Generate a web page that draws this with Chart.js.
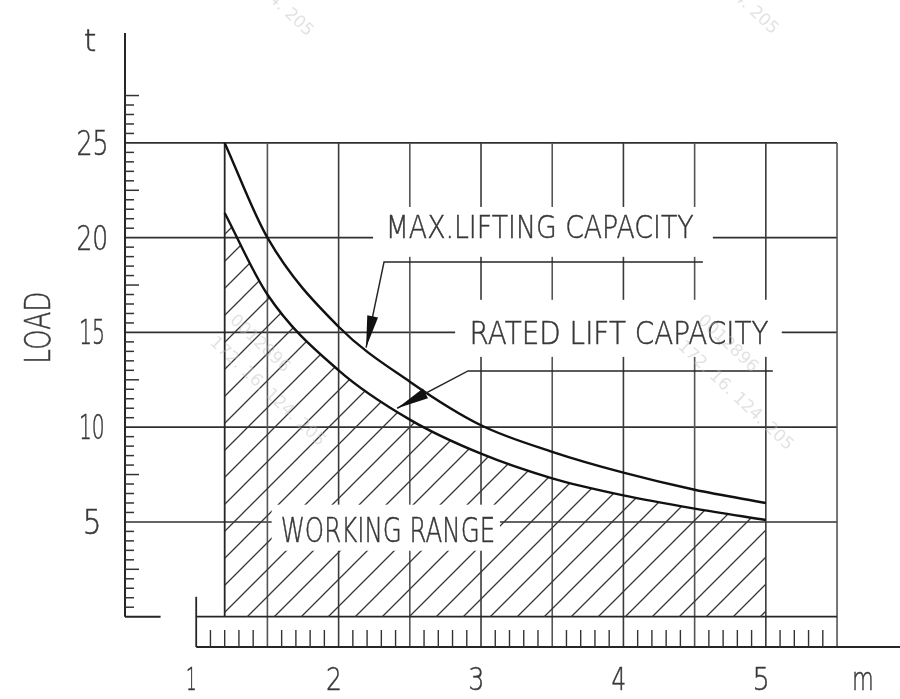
<!DOCTYPE html>
<html>
<head>
<meta charset="utf-8">
<script src="https://cdn.jsdelivr.net/npm/chart.js@4.4.1/dist/chart.umd.min.js"></script>
<style>
  html, body { margin: 0; padding: 0; background: #fff; }
  #wrap { width: 900px; height: 699px; }
</style>
</head>
<body>
<div id="wrap"><canvas id="loadChart" width="900" height="699"></canvas></div>
<script>
// working radius (m) and load (t)
const radius = [1.2, 1.5, 2, 2.5, 3, 3.5, 4, 4.5, 5];
const maxLifting = [25, 20, 15.3, 12.4, 10.1, 8.7, 7.6, 6.7, 6.0];
const ratedLift = [21.3, 17.0, 13.0, 10.4, 8.6, 7.3, 6.4, 5.7, 5.1];
const loadTicks = [5, 10, 15, 20, 25];
const radiusTicks = [1, 2, 3, 4, 5];

const INK = '#262626';
const TXT = '#383838';
const FONT = '"DejaVu Sans", sans-serif';

function hatchPattern() {
  const s = 27;
  const c = document.createElement('canvas');
  c.width = s;
  c.height = s;
  const g = c.getContext('2d');
  g.strokeStyle = '#363636';
  g.lineWidth = 1.3;
  g.beginPath();
  g.moveTo(-2, s + 2); g.lineTo(s + 2, -2);
  g.moveTo(-2, 2); g.lineTo(2, -2);
  g.moveTo(s - 2, s + 2); g.lineTo(s + 2, s - 2);
  g.stroke();
  return g.createPattern(c, 'repeat');
}

// draws text so that its capitals are capH tall and (optionally) its ink is `width` wide
function drawText(ctx, str, cx, cy, capH, width, rot) {
  ctx.save();
  ctx.font = '200 100px ' + FONT;
  const cap = ctx.measureText('H').actualBoundingBoxAscent;
  const k = capH / cap;
  const m = ctx.measureText(str);
  const w = m.actualBoundingBoxLeft + m.actualBoundingBoxRight;
  const sx = width ? width / (w * k) : 0.62;
  ctx.translate(cx, cy);
  if (rot) ctx.rotate(rot);
  ctx.scale(k * sx, k);
  ctx.fillStyle = TXT;
  ctx.strokeStyle = TXT;
  ctx.lineWidth = 0.5 / k;
  ctx.textAlign = 'left';
  ctx.textBaseline = 'alphabetic';
  ctx.fillText(str, m.actualBoundingBoxLeft - w / 2, cap / 2);
  ctx.strokeText(str, m.actualBoundingBoxLeft - w / 2, cap / 2);
  ctx.restore();
}

function line(ctx, x1, y1, x2, y2, w, col) {
  ctx.beginPath();
  ctx.lineWidth = w;
  ctx.strokeStyle = col || INK;
  ctx.moveTo(x1, y1);
  ctx.lineTo(x2, y2);
  ctx.stroke();
}

function leader(ctx, pts) {
  ctx.beginPath();
  ctx.lineWidth = 1.5;
  ctx.strokeStyle = INK;
  ctx.moveTo(pts[0][0], pts[0][1]);
  pts.slice(1).forEach(p => ctx.lineTo(p[0], p[1]));
  ctx.stroke();
  // arrow head at the last point
  const [ax, ay] = pts[pts.length - 2];
  const [tx, ty] = pts[pts.length - 1];
  const a = Math.atan2(ty - ay, tx - ax);
  const L = 32, H = 5.5;
  ctx.beginPath();
  ctx.fillStyle = '#111';
  ctx.moveTo(tx, ty);
  ctx.lineTo(tx - L * Math.cos(a) + H * Math.sin(a), ty - L * Math.sin(a) - H * Math.cos(a));
  ctx.lineTo(tx - L * Math.cos(a) - H * Math.sin(a), ty - L * Math.sin(a) + H * Math.cos(a));
  ctx.closePath();
  ctx.fill();
}

function watermark(ctx, str, x, y) {
  ctx.save();
  ctx.translate(x, y);
  ctx.rotate(Math.PI * 0.24);
  ctx.font = '17px ' + FONT;
  ctx.fillStyle = 'rgba(190,190,190,0.45)';
  ctx.textBaseline = 'middle';
  ctx.fillText(str, 0, 0);
  ctx.restore();
}

const drawingPlugin = {
  id: 'drawing',
  beforeDatasetsDraw(chart) {
    const { ctx, scales: { x, y } } = chart;
    const X = v => x.getPixelForValue(v);
    const Y = v => y.getPixelForValue(v);
    ctx.save();
    ctx.lineCap = 'butt';

    // load grid
    loadTicks.forEach(v => line(ctx, X(0.5), Y(v), X(5.5), Y(v), 1.6, '#303030'));
    // radius grid every 0.5 m, running down through the ruler
    for (let i = 3; i <= 11; i++) {
      line(ctx, X(i / 2), Y(25), X(i / 2), Y(y.min), 1.6, i % 2 ? '#555' : '#3a3a3a');
    }
    line(ctx, X(radius[0]), Y(25), X(radius[0]), Y(0), 1.8, INK);

    // load axis with its ruler
    line(ctx, X(0.5), Y(y.max), X(0.5), Y(0), 2, INK);
    line(ctx, X(0.5), Y(0), X(0.75), Y(0), 2, INK);
    for (let i = 1; i <= 55; i++) {
      const v = i / 2;
      if (v % 5 === 0) continue;
      const long = v % 5 === 2.5;
      line(ctx, X(0.5), Y(v), X(0.5) + (long ? 14 : 9), Y(v), 1.5, '#333');
    }

    // radius ruler
    line(ctx, X(1), Y(0), X(5.5), Y(0), 1.8, INK);
    line(ctx, X(1), Y(y.min), chart.width, Y(y.min), 1.8, INK);
    line(ctx, X(1), Y(1.05), X(1), Y(y.min), 1.8, INK);
    for (let i = 11; i < 55; i++) {
      if (i % 5 === 0) continue;
      line(ctx, X(i / 10), Y(y.min), X(i / 10), Y(y.min) - 17, 1.4, '#333');
    }
    ctx.restore();
  },
  afterDatasetsDraw(chart) {
    const { ctx, scales: { x, y } } = chart;
    const X = v => x.getPixelForValue(v);
    const Y = v => y.getPixelForValue(v);
    ctx.save();

    // white fields behind the captions
    ctx.fillStyle = '#fff';
    ctx.fillRect(X(2.242), Y(21.62), X(4.628) - X(2.242), Y(18.99) - Y(21.62));
    ctx.fillRect(X(2.818), Y(16.72), X(5.112) - X(2.818), Y(13.71) - Y(16.72));
    ctx.fillRect(X(1.53), Y(5.91), X(3.133) - X(1.53), Y(3.48) - Y(5.91));

    drawText(ctx, 'MAX.LIFTING CAPACITY', X(3.425), Y(20.57), 23, 303);
    drawText(ctx, 'RATED LIFT CAPACITY', X(3.979), Y(14.98), 23, 295);
    drawText(ctx, 'WORKING RANGE', X(2.344), Y(4.59), 24, 211);

    leader(ctx, [[X(4.558), Y(18.72)], [X(2.319), Y(18.72)], [X(2.193), Y(14.2)]]);
    leader(ctx, [[X(5.049), Y(12.97)], [X(2.909), Y(12.97)], [X(2.411), Y(11.0)]]);

    // axis captions
    loadTicks.forEach(v => drawText(ctx, String(v), X(0.5) - 33, Y(v), 24, v < 10 ? 13 : (v < 20 ? 22 : 28)));
    radiusTicks.forEach(v => drawText(ctx, String(v), X(v) - 5, Y(y.min) + 31, 23, v === 1 ? 7 : 12));
    drawText(ctx, 'm', 863, Y(y.min) + 31, 23, 17);
    drawText(ctx, 't', 90, 40, 22, 10);
    drawText(ctx, 'LOAD', 37, 327, 26, 67, -Math.PI / 2);

    // faint stamp lying over the drawing
    watermark(ctx, '172. 16. 124. 205', 200, -70);
    watermark(ctx, '172. 16. 124. 205', 665, -72);
    watermark(ctx, '0012896', 232, 318);
    watermark(ctx, '172. 16. 124. 205', 212, 340);
    watermark(ctx, '0012896', 700, 318);
    watermark(ctx, '172. 16. 124. 205', 680, 344);
    ctx.restore();
  }
};

const ctx = document.getElementById('loadChart');
new Chart(ctx, {
  type: 'line',
  data: {
    datasets: [
      {
        label: 'MAX.LIFTING CAPACITY',
        data: radius.map((r, i) => ({ x: r, y: maxLifting[i] })),
        borderColor: '#111',
        borderWidth: 2.4,
        pointRadius: 0,
        fill: false,
        cubicInterpolationMode: 'monotone'
      },
      {
        label: 'RATED LIFT CAPACITY',
        data: radius.map((r, i) => ({ x: r, y: ratedLift[i] })),
        borderColor: '#111',
        borderWidth: 2.4,
        pointRadius: 0,
        fill: 'origin',
        backgroundColor: hatchPattern(),
        cubicInterpolationMode: 'monotone'
      }
    ]
  },
  options: {
    responsive: false,
    animation: false,
    events: [],
    layout: { padding: { left: 125, right: 6, top: 33, bottom: 52 } },
    scales: {
      x: { type: 'linear', min: 0.5, max: 5.9, display: false },
      y: { type: 'linear', min: -1.6, max: 30.8, display: false }
    },
    plugins: {
      legend: { display: false },
      tooltip: { enabled: false }
    }
  },
  plugins: [drawingPlugin]
});
</script>
</body>
</html>
